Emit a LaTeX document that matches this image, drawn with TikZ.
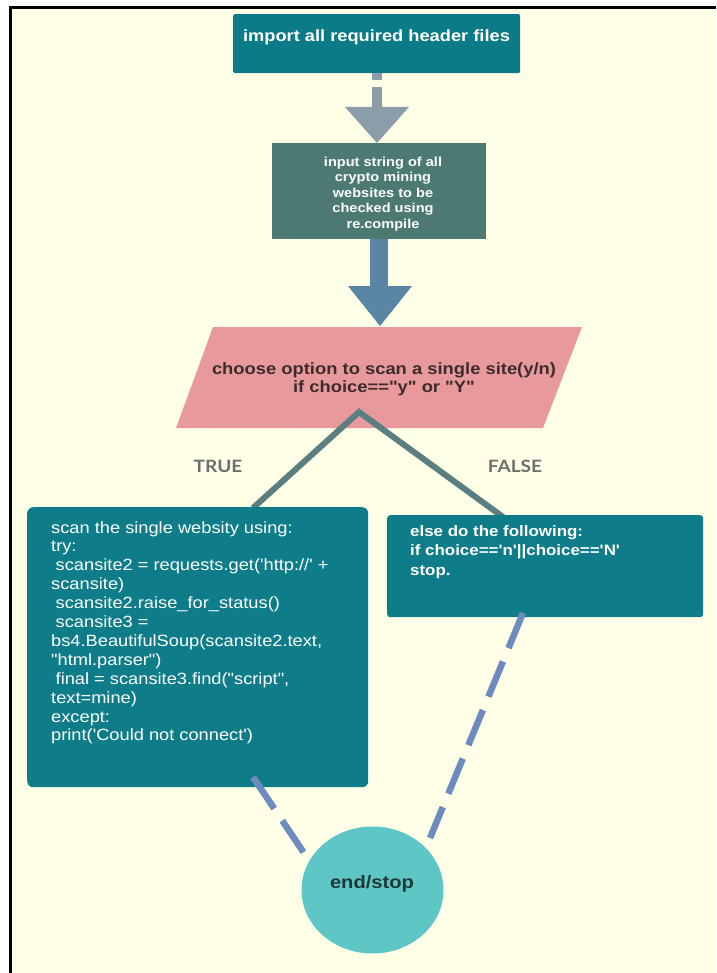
\documentclass[tikz,border=0pt]{standalone}
\usepackage{fontspec}
\usetikzlibrary{shapes.geometric}
\newfontfamily\arial{Liberation Sans}[FakeStretch=1.12]
\newfontfamily\lato{Lato}[FakeStretch=1.12]
\definecolor{cream}{HTML}{FFFFE8}
\definecolor{tealA}{HTML}{0A7B87}
\definecolor{slateB}{HTML}{4C7A72}
\definecolor{arrowA}{HTML}{8A9DA8}
\definecolor{arrowB}{HTML}{5A86A3}
\definecolor{pinkD}{HTML}{E8999B}
\definecolor{pinkText}{HTML}{3D2B2D}
\definecolor{branch}{HTML}{5B7F80}
\definecolor{tealC}{HTML}{0F7D89}
\definecolor{dashC}{HTML}{6E8BC0}
\definecolor{circC}{HTML}{5FC6C6}
\definecolor{circText}{HTML}{1E3838}
\definecolor{labelC}{HTML}{6E6E6E}
\begin{document}
\begin{tikzpicture}[x=1pt,y=-1pt,
  boxA/.style={fill=tealA, draw=none, rounded corners=1.5pt, inner sep=0pt, anchor=north west},
  boxB/.style={fill=slateB, draw=none, inner sep=0pt, anchor=north west},
  boxC/.style={fill=tealC, draw=none, rounded corners=6pt, inner sep=0pt, anchor=north west},
  wtext/.style={text=white, inner sep=0pt},
  branchline/.style={draw=branch, line width=6pt, line join=miter},
  dashline/.style={draw=dashC, line width=6.5pt, dash pattern=on 38pt off 14.5pt},
  tflabel/.style={text=labelC, font=\lato\bfseries\fontsize{17}{20}\selectfont, inner sep=0pt}
]
\useasboundingbox (0,0) rectangle (716,973);
\fill[white] (0,0) rectangle (716,973);
\fill[cream] (10,7) rectangle (716,973);
\draw[black, line width=3pt] (10.5,973) -- (10.5,7.5) -- (716,7.5);

% boxes
\node[boxA, minimum width=287pt, minimum height=59pt] (b1) at (233,14) {};
\node[wtext, font=\arial\bfseries\fontsize{16.3}{19}\selectfont] (t1) at (376.5,37) {import all required header files};

\node[boxB, minimum width=214pt, minimum height=96pt] (b2) at (272,143) {};
\node[wtext, align=center, font=\arial\bfseries\fontsize{13}{15.5}\selectfont] (t2) at (383,194)
  {input string of all\\crypto mining\\websites to be\\checked using\\ re.compile};

% dashed gray arrow b1 -> b2
\draw[arrowA, line width=10pt, dash pattern=on 7pt off 7pt on 30pt off 0pt] (b1.south -| 377,0) -- (377,108);
\fill[arrowA] (345,107) -- (409,107) -- (b2.north -| 377,0) -- cycle;

% parallelogram
\fill[pinkD] (213,327) -- (582,327) -- (543,428) -- (176,428) -- cycle;
\node[text=pinkText, align=center, inner sep=0pt, font=\arial\bfseries\fontsize{16.4}{18}\selectfont] (dec) at (384,379)
  {choose option to scan a single site(y/n)\\if choice=="y" or "Y"};

% thick arrow b2 -> decision
\fill[arrowB] (370,239) rectangle (388,287);
\fill[arrowB] (348,286) -- (412,286) -- (380,326) -- cycle;

% branch lines
\coordinate (apex) at (359,412);
\coordinate (ltop) at (253,508);
\coordinate (rtop) at (503,517);
\draw[branchline] (ltop) -- (apex) -- (rtop);

\node[tflabel] (ltrue) at (218,466) {TRUE};
\node[tflabel] (lfalse) at (515,466) {FALSE};

% left box
\node[boxC, minimum width=341pt, minimum height=280pt] (lbox) at (27,507) {};
\node[wtext, anchor=north west, align=left, font=\arial\fontsize{16.3}{18.9}\selectfont] (ltext) at (51,521)
  {scan the single websity using:\\
   try:\\
   \hspace*{4.5pt}scansite2 = requests.get('http://' +\\
   scansite)\\
   \hspace*{4.5pt}scansite2.raise\_for\_status()\\
   \hspace*{4.5pt}scansite3 =\\
   bs4.BeautifulSoup(scansite2.text,\\
   "html.parser")\\
   \hspace*{4.5pt}final = scansite3.find("script",\\
   text=mine)\\
   except:\\
   print('Could not connect')};

% right box
\node[boxC, rounded corners=3pt, minimum width=316pt, minimum height=102pt] (rbox) at (387,515) {};
\node[wtext, anchor=north west, align=left, font=\arial\bfseries\fontsize{15.1}{19.5}\selectfont] (rtext) at (410,525)
  {else do the following:\\if choice=='n'||choice=='N'\\stop.};

% end circle
\node[ellipse, fill=circC, minimum width=142pt, minimum height=127pt, inner sep=0pt] (endc) at (372.5,890) {};
\node[text=circText, inner sep=0pt, font=\arial\bfseries\fontsize{18}{21}\selectfont] (endt) at (372,884) {end/stop};

% dashed connectors
\coordinate (lbot) at (253,777);
\coordinate (lend) at (304,853);
\coordinate (rbot) at (523,613);
\coordinate (rend) at (430,838);
\draw[dashline] (lbot) -- (lend);
\draw[dashline] (rbot) -- (rend);
\end{tikzpicture}
\end{document}
